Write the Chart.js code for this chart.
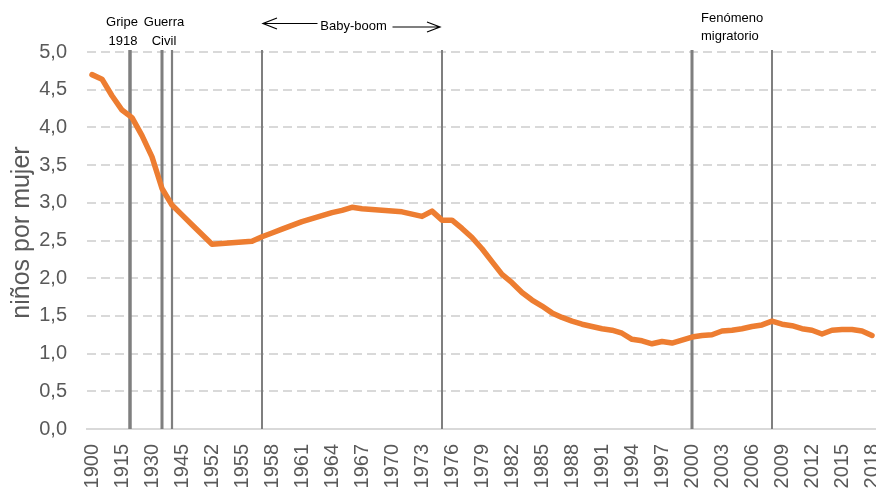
<!DOCTYPE html>
<html><head><meta charset="utf-8">
<script src="https://cdn.jsdelivr.net/npm/chart.js@4/dist/chart.umd.min.js"></script>
<style>
html,body{margin:0;padding:0;background:#fff;overflow:hidden;width:876px;height:492px}
#wrap{width:877px;height:492px;position:relative}
</style></head>
<body><div id="wrap"><canvas id="c" width="877" height="492"></canvas></div>
<script>
// ---- data ----
const years = ['1900','1905','1910','1915','1920','1925','1930','1935','1940','1945',
 '1950','1951','1952','1953','1954','1955','1956','1957','1958','1959',
 '1960','1961','1962','1963','1964','1965','1966','1967','1968','1969',
 '1970','1971','1972','1973','1974','1975','1976','1977','1978','1979',
 '1980','1981','1982','1983','1984','1985','1986','1987','1988','1989',
 '1990','1991','1992','1993','1994','1995','1996','1997','1998','1999',
 '2000','2001','2002','2003','2004','2005','2006','2007','2008','2009',
 '2010','2011','2012','2013','2014','2015','2016','2017','2018'];
const tfr = [4.70,4.64,4.42,4.23,4.13,3.89,3.61,3.19,2.97,2.84,
 2.71,2.58,2.45,2.46,2.47,2.48,2.49,2.55,2.60,2.65,
 2.70,2.75,2.79,2.83,2.87,2.90,2.94,2.92,2.91,2.90,
 2.89,2.88,2.85,2.82,2.89,2.77,2.77,2.66,2.54,2.39,
 2.22,2.05,1.94,1.81,1.71,1.63,1.54,1.48,1.43,1.39,
 1.36,1.33,1.31,1.27,1.19,1.17,1.13,1.16,1.14,1.18,
 1.22,1.24,1.25,1.30,1.31,1.33,1.36,1.38,1.43,1.39,
 1.37,1.33,1.31,1.26,1.31,1.32,1.32,1.30,1.24];
const yTickLabels = ['0,0','0,5','1,0','1,5','2,0','2,5','3,0','3,5','4,0','4,5','5,0'];
const markerYears = [1919,1935,1940,1957,1975,2000,2008];
const yTitle = 'niños por mujer';

// ---- styles ----
const FONT = "'Liberation Sans', Arial, sans-serif";
const STYLE = {
  line:'#ED7D31', grid:'#d9d9d9', text:'#595959', markerColor:'#7f7f7f',
  markerWidths:[3.5,3,2.2,2,2,3,2]
};

function catPos(yr){
  const nums = years.map(Number);
  for (let i=0;i<nums.length-1;i++){
    if (yr>=nums[i] && yr<=nums[i+1]) return i + (yr-nums[i])/(nums[i+1]-nums[i]);
  }
  return nums.length-1;
}

const markerPlugin = {
  id:'markers',
  beforeDatasetsDraw(chart){
    const {ctx, chartArea:a, scales:{x}} = chart;
    ctx.save();
    ctx.strokeStyle = STYLE.markerColor;
    markerYears.forEach((yr,k)=>{
      const px = x.getPixelForValue(catPos(yr));
      ctx.lineWidth = STYLE.markerWidths[k];
      ctx.beginPath(); ctx.moveTo(px, a.top-2); ctx.lineTo(px, a.bottom); ctx.stroke();
    });
    ctx.restore();
  },
  afterDraw(chart){
    const {ctx, chartArea:a, scales:{x}} = chart;
    const X = yr => x.getPixelForValue(catPos(yr));
    ctx.save();
    // y axis title
    ctx.save();
    ctx.fillStyle = STYLE.text;
    ctx.font = '25px ' + FONT;
    ctx.textAlign = 'center'; ctx.textBaseline = 'middle';
    ctx.translate(22, (a.top + a.bottom)/2 - 8);
    ctx.rotate(-Math.PI/2);
    ctx.fillText(yTitle, 0, 0);
    ctx.restore();

    ctx.fillStyle = '#000';
    ctx.font = '13px ' + FONT;
    ctx.textAlign = 'center'; ctx.textBaseline = 'middle';
    ctx.fillText('Gripe', X(1915), 22);
    ctx.fillText('1918', X(1915)+1, 41);
    ctx.fillText('Guerra', X(1935)+2, 22);
    ctx.fillText('Civil', X(1935)+2, 41);
    const l = X(1957)+1, r = X(1975)-2;
    const mid = (l+r)/2 + 2;
    ctx.fillText('Baby-boom', mid, 26);
    ctx.strokeStyle = '#000'; ctx.lineWidth = 1.2;
    ctx.beginPath();
    ctx.moveTo(l, 23.5); ctx.lineTo(mid-36, 23.5);
    ctx.moveTo(l+14, 18); ctx.lineTo(l, 23.5); ctx.lineTo(l+14, 29);
    ctx.moveTo(mid+39, 27); ctx.lineTo(r, 27);
    ctx.moveTo(r-13, 22); ctx.lineTo(r, 27); ctx.lineTo(r-13, 32);
    ctx.stroke();
    ctx.textAlign = 'left';
    ctx.fillText('Fenómeno', X(2000)+9, 18);
    ctx.fillText('migratorio', X(2000)+9, 36);
    ctx.restore();
  }
};

new Chart(document.getElementById('c').getContext('2d'), {
  type:'line',
  data:{labels:years, datasets:[{data:tfr, borderColor:STYLE.line, borderWidth:5.5,
    pointRadius:0, pointHoverRadius:0, tension:0, borderCapStyle:'round', borderJoinStyle:'round', fill:false}]},
  options:{
    responsive:false, animation:false, events:[],
    layout:{padding:{top:52,left:0,right:0,bottom:0}},
    plugins:{legend:{display:false}, tooltip:{enabled:false}},
    scales:{
      x:{type:'category', offset:true,
        grid:{display:false, drawTicks:false},
        border:{display:true, color:STYLE.grid, width:2},
        ticks:{autoSkip:false, minRotation:90, maxRotation:90, padding:15, color:STYLE.text,
          font:{family:FONT, size:20},
          callback:(v,i)=> i%3===0 ? years[i] : ''},
        afterFit:s=>{s.height=63; s.paddingLeft=0; s.paddingRight=0;}
      },
      y:{min:0, max:5,
        ticks:{stepSize:0.5, padding:20, color:STYLE.text, font:{family:FONT, size:20},
          callback:(v,i)=>yTickLabels[i]},
        grid:{color:STYLE.grid, lineWidth:2, drawTicks:false},
        border:{display:false, dash:[9,5]},
        title:{display:false},
        afterFit:s=>{s.width=87;}
      }
    }
  },
  plugins:[markerPlugin]
});
</script></body></html>
